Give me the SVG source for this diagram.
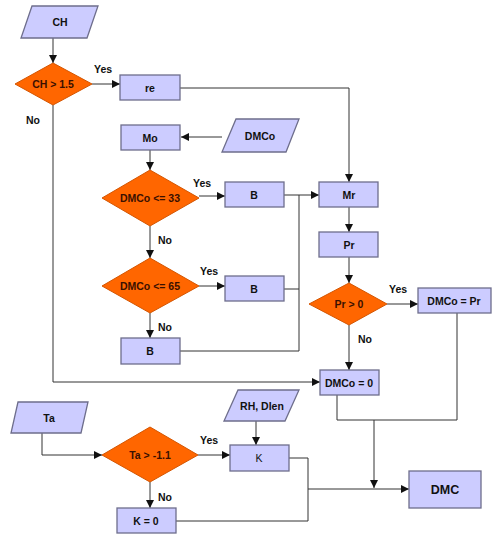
<svg xmlns="http://www.w3.org/2000/svg" width="500" height="541" viewBox="0 0 500 541">
<style>
.box{fill:#ccccff;stroke:#6e6e8c;stroke-width:1.3}
.dia{fill:#ff6600;stroke:#d45500;stroke-width:1}
.t{font-family:"Liberation Sans",Arial,sans-serif;font-size:10.5px;font-weight:bold;fill:#111;text-anchor:middle;dominant-baseline:central}
.dt{font-family:"Liberation Sans",Arial,sans-serif;font-size:10.5px;font-weight:bold;fill:#3a1000;text-anchor:middle;dominant-baseline:central}
.lbl{font-family:"Liberation Sans",Arial,sans-serif;font-size:10.5px;font-weight:bold;fill:#111;dominant-baseline:central}
.c{fill:none;stroke:#333;stroke-width:1}
</style>
<defs>
<marker id="ah" viewBox="0 0 10 10" refX="10" refY="5" markerWidth="8" markerHeight="8" markerUnits="userSpaceOnUse" orient="auto">
<path d="M0,0 L10,5 L0,10 z" fill="#111"/>
</marker>
</defs>
<rect width="500" height="541" fill="#fff"/>
<g id="connectors">
<path class="c" d="M53,38 V63" marker-end="url(#ah)"/>
<path class="c" d="M92,84 H120" marker-end="url(#ah)"/>
<path class="c" d="M180,88 H349 V182" marker-end="url(#ah)"/>
<path class="c" d="M53,105 V382 H320" marker-end="url(#ah)"/>
<path class="c" d="M222,137 H181" marker-end="url(#ah)"/>
<path class="c" d="M150,150 V170" marker-end="url(#ah)"/>
<path class="c" d="M199,196 H225" marker-end="url(#ah)"/>
<path class="c" d="M284,195 H319" marker-end="url(#ah)"/>
<path class="c" d="M299,195 V351 H180"/>
<path class="c" d="M284,289 H299"/>
<path class="c" d="M150,226 V258" marker-end="url(#ah)"/>
<path class="c" d="M199,286 H225" marker-end="url(#ah)"/>
<path class="c" d="M150,313 V338" marker-end="url(#ah)"/>
<path class="c" d="M349,207 V232" marker-end="url(#ah)"/>
<path class="c" d="M349,257 V283" marker-end="url(#ah)"/>
<path class="c" d="M387,304 H418" marker-end="url(#ah)"/>
<path class="c" d="M349,325 V370" marker-end="url(#ah)"/>
<path class="c" d="M337,395 V420 H457 V313"/>
<path class="c" d="M374,420 V488" marker-end="url(#ah)"/>
<path class="c" d="M308,489 H409" marker-end="url(#ah)"/>
<path class="c" d="M289,458 H308 V521 H176"/>
<path class="c" d="M256,421 V445" marker-end="url(#ah)"/>
<path class="c" d="M42,433 V455 H102" marker-end="url(#ah)"/>
<path class="c" d="M198,455 H230" marker-end="url(#ah)"/>
<path class="c" d="M150,482 V508" marker-end="url(#ah)"/>
<text class="lbl" x="94" y="69">Yes</text>
<text class="lbl" x="26" y="120">No</text>
<text class="lbl" x="193" y="183">Yes</text>
<text class="lbl" x="158" y="240">No</text>
<text class="lbl" x="200" y="271">Yes</text>
<text class="lbl" x="158" y="327">No</text>
<text class="lbl" x="389" y="289">Yes</text>
<text class="lbl" x="358" y="339">No</text>
<text class="lbl" x="200" y="440">Yes</text>
<text class="lbl" x="158" y="497">No</text>
</g>
<g id="n-ch"><polygon class="box" points="32,6 98,6 87,38 21,38"/><text class="t" x="60" y="22">CH</text></g>
<g id="n-ch15"><polygon class="dia" points="53,63 92,84 53,105 15,84"/><text class="dt" x="53" y="84">CH &gt; 1.5</text></g>
<g id="n-re"><rect class="box" x="120" y="75" width="60" height="25"/><text class="t" x="150" y="88">re</text></g>
<g id="n-mo"><rect class="box" x="121" y="125" width="59" height="25"/><text class="t" x="150" y="138">Mo</text></g>
<g id="n-dmco"><polygon class="box" points="236,119 299,119 286,152 222,152"/><text class="t" x="260" y="136">DMCo</text></g>
<g id="n-d33"><polygon class="dia" points="150,170 199,198 150,226 102,198"/><text class="dt" x="150" y="198">DMCo &lt;= 33</text></g>
<g id="n-b1"><rect class="box" x="225" y="182" width="59" height="25"/><text class="t" x="254" y="195">B</text></g>
<g id="n-d65"><polygon class="dia" points="150,258 199,286 150,313 102,286"/><text class="dt" x="150" y="286">DMCo &lt;= 65</text></g>
<g id="n-b2"><rect class="box" x="225" y="276" width="59" height="25"/><text class="t" x="254" y="289">B</text></g>
<g id="n-b3"><rect class="box" x="121" y="338" width="59" height="26"/><text class="t" x="150" y="351">B</text></g>
<g id="n-mr"><rect class="box" x="319" y="182" width="59" height="25"/><text class="t" x="349" y="195">Mr</text></g>
<g id="n-pr"><rect class="box" x="319" y="232" width="59" height="25"/><text class="t" x="349" y="245">Pr</text></g>
<g id="n-pr0"><polygon class="dia" points="349,283 387,304 349,325 309,304"/><text class="dt" x="349" y="304">Pr &gt; 0</text></g>
<g id="n-dmcopr"><rect class="box" x="418" y="288" width="73" height="25"/><text class="t" x="454" y="301">DMCo = Pr</text></g>
<g id="n-dmco0"><rect class="box" x="320" y="370" width="59" height="25"/><text class="t" x="349" y="383">DMCo = 0</text></g>
<g id="n-ta"><polygon class="box" points="18,402 88,402 81,433 11,433"/><text class="t" x="49" y="418">Ta</text></g>
<g id="n-ta11"><polygon class="dia" points="150,427 198,455 150,482 102,455"/><text class="dt" x="150" y="455">Ta &gt; -1.1</text></g>
<g id="n-rh"><polygon class="box" points="238,390 299,390 285,421 224,421"/><text class="t" x="262" y="406">RH, Dlen</text></g>
<g id="n-k"><rect class="box" x="230" y="445" width="59" height="26"/><text class="t" x="259" y="458" style="font-weight:normal">K</text></g>
<g id="n-k0"><rect class="box" x="117" y="508" width="59" height="25"/><text class="t" x="146" y="521">K = 0</text></g>
<g id="n-dmc"><rect class="box" x="409" y="471" width="72" height="37"/><text class="t" x="445" y="490" style="font-size:12.5px">DMC</text></g>
</svg>
